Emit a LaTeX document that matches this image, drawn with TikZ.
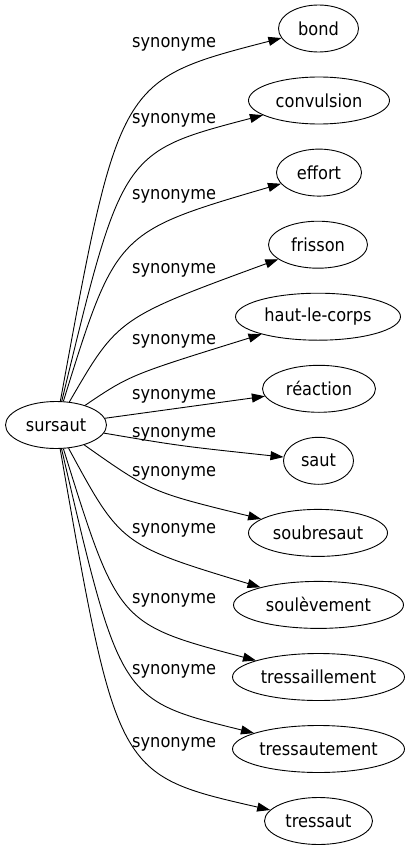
\documentclass[tikz,border=0pt]{standalone}
\usepackage{fontspec}
\setmainfont{DejaVu Sans}[FakeStretch=0.9]
\usetikzlibrary{arrows.meta,shapes.geometric}
\begin{document}
\begin{tikzpicture}[x=1pt,y=-1pt,
  word/.style={ellipse,draw,line width=0.9pt,inner sep=0pt,minimum height=47pt,font=\fontsize{18}{20}\selectfont},
  syn/.style={anchor=base west,inner sep=0pt,font=\fontsize{18}{20}\selectfont},
  edge/.style={line width=0.9pt,-{Triangle[length=13pt,width=9pt]}}]
\useasboundingbox (0,0) rectangle (410,851);
% nodes
\node[word,minimum width=101pt] (sursaut) at (56,425) {sursaut};
\node[word,minimum width=80pt]  (bond) at (318.5,28.5) {bond};
\node[word,minimum width=141pt] (convulsion) at (319,100.5) {convulsion};
\node[word,minimum width=85pt]  (effort) at (319,172.6) {effort};
\node[word,minimum width=99pt]  (frisson) at (318,244.7) {frisson};
\node[word,minimum width=165pt] (haut) at (318,316.7) {haut-le-corps};
\node[word,minimum width=113pt] (reaction) at (319,388.8) {réaction};
\node[word,minimum width=70pt]  (saut) at (318.5,460.8) {saut};
\node[word,minimum width=139pt] (soubresaut) at (318,532.9) {soubresaut};
\node[word,minimum width=170pt] (soulevement) at (318.5,604.9) {soulèvement};
\node[word,minimum width=172pt] (tressaillement) at (318.5,677) {tressaillement};
\node[word,minimum width=172pt] (tressautement) at (318.5,749) {tressautement};
\node[word,minimum width=108pt] (tressaut) at (318.5,821) {tressaut};
% edges
\draw[edge] (sursaut) .. controls (119,80) .. (bond);
\draw[edge] (sursaut) .. controls (122,152) .. (convulsion);
\draw[edge] (sursaut) .. controls (116,232) .. (effort);
\draw[edge] (sursaut) .. controls (118,318) .. (frisson);
\draw[edge] (sursaut) .. controls (130,375) .. (haut);
\draw[edge] (sursaut) -- (reaction);
\draw[edge] (sursaut) .. controls (180,446) .. (saut);
\draw[edge] (sursaut) .. controls (151,492) .. (soubresaut);
\draw[edge] (sursaut) .. controls (121,545) .. (soulevement);
\draw[edge] (sursaut) .. controls (118,624) .. (tressaillement);
\draw[edge] (sursaut) .. controls (120,700) .. (tressautement);
\draw[edge] (sursaut) .. controls (117,775) .. (tressaut);
% labels
\node[syn] (l1) at (132,48) {synonyme};
\node[syn] (l2) at (132,123) {synonyme};
\node[syn] (l3) at (132,199) {synonyme};
\node[syn] (l4) at (132,273) {synonyme};
\node[syn] (l5) at (132,344) {synonyme};
\node[syn] (l6) at (132,399) {synonyme};
\node[syn] (l7) at (132,437) {synonyme};
\node[syn] (l8) at (132,476) {synonyme};
\node[syn] (l9) at (132,533) {synonyme};
\node[syn] (l10) at (132,603) {synonyme};
\node[syn] (l11) at (132,674) {synonyme};
\node[syn] (l12) at (132,747) {synonyme};
\end{tikzpicture}
\end{document}
